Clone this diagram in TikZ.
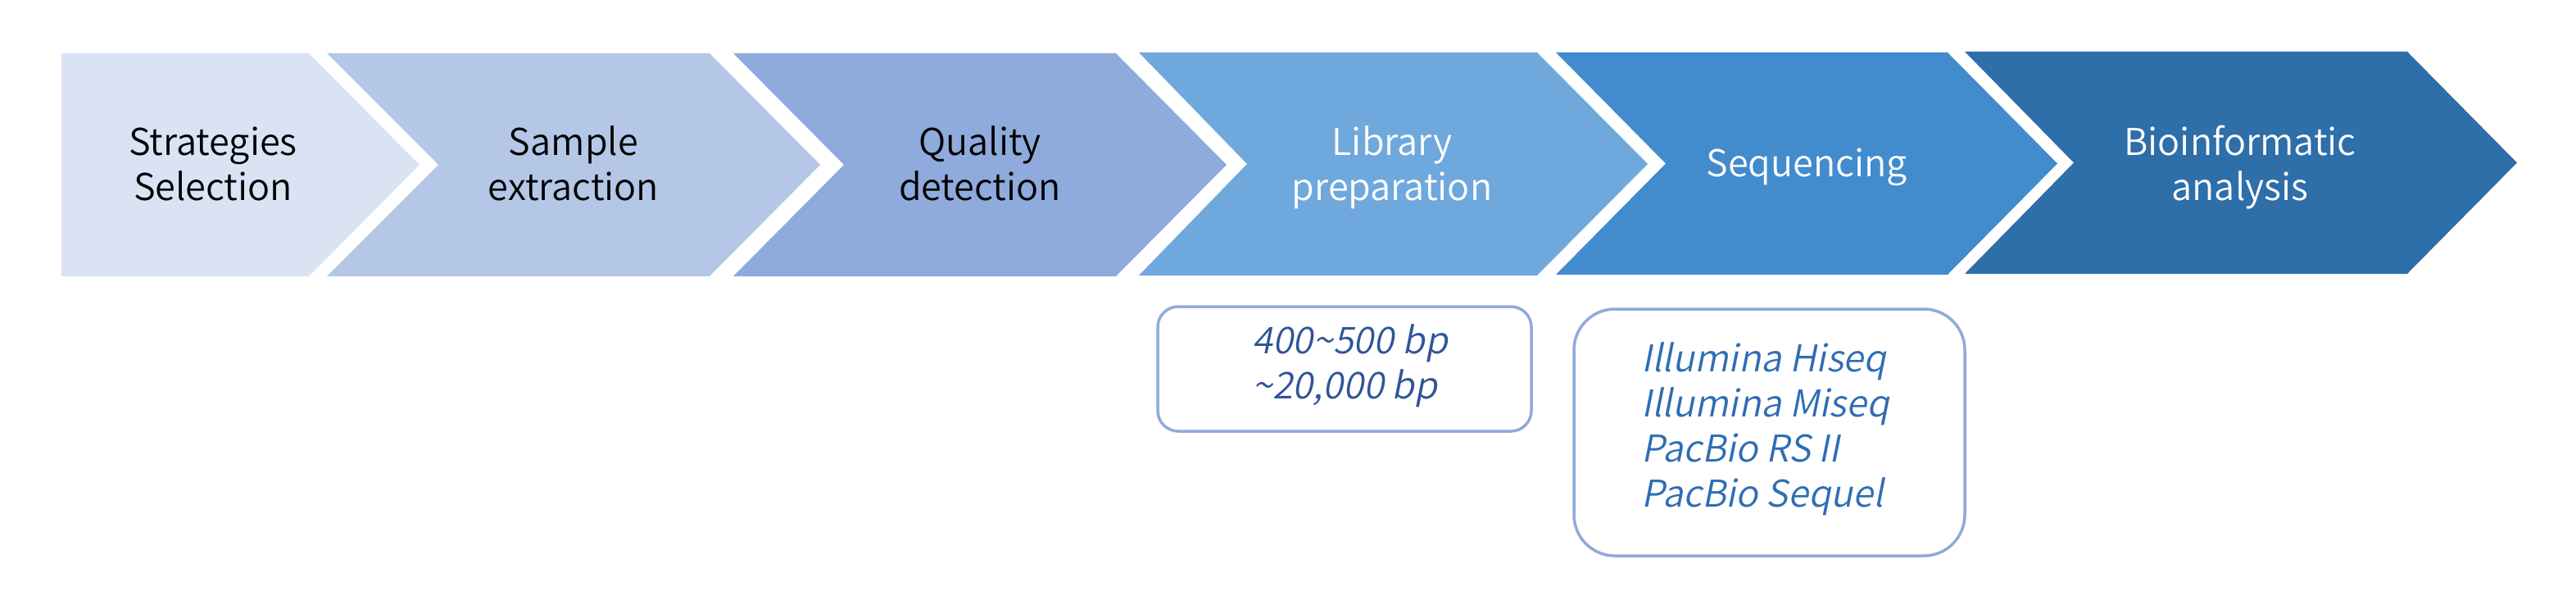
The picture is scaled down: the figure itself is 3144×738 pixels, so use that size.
\documentclass[tikz,border=0pt]{standalone}
\usepackage{fontspec}
\setmainfont{Noto Sans CJK SC DemiLight}
\newfontfamily\slfont{Noto Sans CJK SC DemiLight}[FakeSlant=0.2]
\definecolor{cA}{HTML}{DAE3F3}
\definecolor{cB}{HTML}{B4C7E7}
\definecolor{cC}{HTML}{8FAADC}
\definecolor{cD}{HTML}{6FA8DC}
\definecolor{cE}{HTML}{428BCD}
\definecolor{cF}{HTML}{2E6EA9}
\definecolor{boxline}{HTML}{8FAADC}
\definecolor{txtA}{HTML}{2F5597}
\definecolor{txtB}{HTML}{2E6DB4}
\tikzset{
  steplabel/.style={align=center, inner sep=0pt, font=\fontsize{22.5}{27.5}\selectfont},
  notelabel/.style={align=left, inner sep=0pt, anchor=west, font=\fontsize{22.5}{27.5}\selectfont\slfont},
  notebox/.style={draw=boxline, line width=1.75pt, fill=white}
}
\begin{document}
\begin{tikzpicture}[x=0.5pt,y=-0.5pt]
\useasboundingbox (0,0) rectangle (3144,738);
% chevrons
\fill[cA] (75,65)--(377,65)--(512,201)--(377,337)--(75,337)--cycle;
\fill[cB] (399,65)--(866,65)--(1001,201)--(866,337)--(399,337)--(535,201)--cycle;
\fill[cC] (895,65)--(1362,65)--(1497,201)--(1362,337)--(895,337)--(1030,201)--cycle;
\fill[cD] (1390,64)--(1876,64)--(2011,200)--(1876,336)--(1390,336)--(1522,200)--cycle;
\fill[cE] (1899,64)--(2377,64)--(2511,199.5)--(2377,335)--(1899,335)--(2033,199.5)--cycle;
\fill[cF] (2398,63)--(2938,63)--(3072,198.5)--(2938,334)--(2398,334)--(2531,198.5)--cycle;
% chevron labels
\node[steplabel, text=black] (s1) at (260,205.75) {\strut Strategies\\\strut Selection};
\node[steplabel, text=black] (s2) at (700,205.75) {\strut Sample\\\strut extraction};
\node[steplabel, text=black] (s3) at (1196,205.75) {\strut Quality\\\strut detection};
\node[steplabel, text=white] (s4) at (1699,205.75) {\strut Library\\\strut preparation};
\node[steplabel, text=white] (s5) at (2205,204.5) {\strut Sequencing};
\node[steplabel, text=white] (s6) at (2734,205.75) {\strut Bioinformatic\\\strut analysis};
% boxes
\draw[notebox, rounded corners=12.5pt] (1413,374) rectangle (1869,526);
\draw[notebox, rounded corners=25pt] (1921,377) rectangle (2398,678);
\node[notelabel, text=txtA] (n1) at (1528,447.5) {\strut 400\char"007E 500 bp\\\strut \char"007E 20,000 bp};
\node[notelabel, text=txtB] (n2) at (2003,524.5) {\strut Illumina Hiseq\\\strut Illumina Miseq\\\strut PacBio RS II\\\strut PacBio Sequel};
\end{tikzpicture}
\end{document}
